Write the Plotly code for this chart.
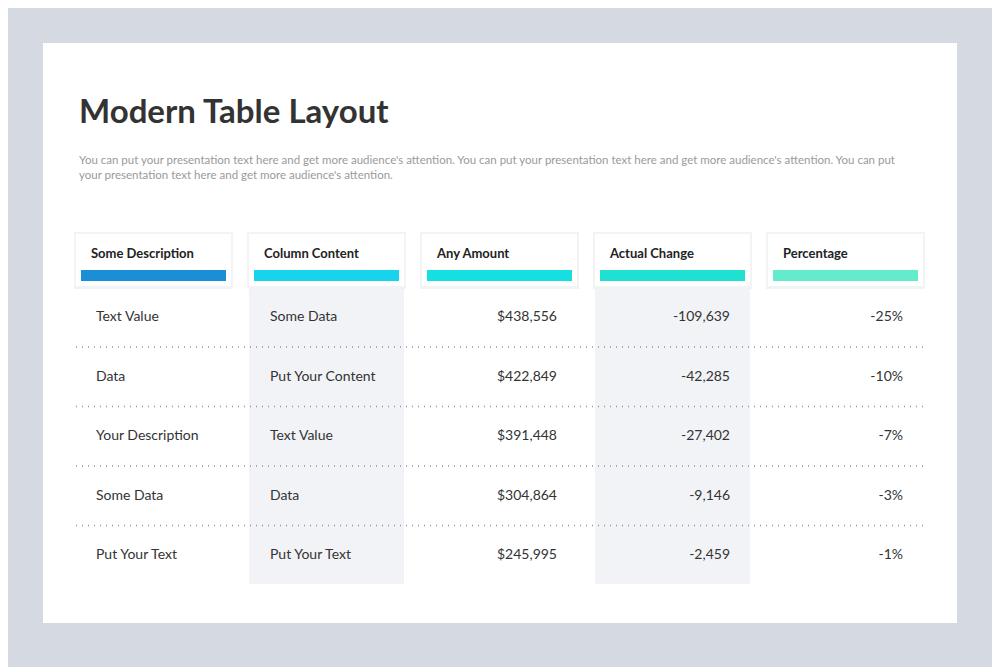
import plotly.graph_objects as go

# table data
headers = ["Some Description", "Column Content", "Any Amount", "Actual Change", "Percentage"]
descriptions = ["Text Value", "Data", "Your Description", "Some Data", "Put Your Text"]
contents = ["Some Data", "Put Your Content", "Text Value", "Data", "Put Your Text"]
amounts = [438556, 422849, 391448, 304864, 245995]
changes = [-109639, -42285, -27402, -9146, -2459]
percents = [-25, -10, -7, -3, -1]

bar_colors = ["#1a8fd6", "#17d3ec", "#15dfe0", "#20e0d2", "#62eccc"]
title = "Modern Table Layout"
blurb = ("You can put your presentation text here and get more audience's attention. You can put your presentation text here and get more audience's attention. You can put<br>"
         "your presentation text here and get more audience's attention.")

# layout in pixel space (page has an 8px body margin, so the axes are shifted)
card_x = [76, 249, 422, 595, 768]
card_w = 155
row_y = [317, 377, 436, 496, 555]
font = "Lato"
off = 8

fig = go.Figure()
shapes = [
    dict(type="rect", x0=43, x1=957, y0=43, y1=623, fillcolor="white", line_width=0, layer="below"),
]
for i in (1, 3):
    shapes.append(dict(type="rect", x0=card_x[i], x1=card_x[i] + card_w, y0=286, y1=584,
                       fillcolor="#f2f3f6", line_width=0, layer="below"))
for i, cx in enumerate(card_x):
    shapes.append(dict(type="rect", x0=cx - 2, x1=cx + card_w + 2, y0=232, y1=289,
                       fillcolor="#f2f3f5", line_width=0, layer="below"))
    shapes.append(dict(type="rect", x0=cx, x1=cx + card_w, y0=234, y1=286,
                       fillcolor="white", line_width=0, layer="below"))
    shapes.append(dict(type="rect", x0=cx + 5, x1=cx + card_w - 5, y0=270, y1=281,
                       fillcolor=bar_colors[i], line_width=0))
for a, b in zip(row_y[:-1], row_y[1:]):
    y = (a + b) / 2
    shapes.append(dict(type="line", x0=76, x1=923, y0=y, y1=y,
                       line=dict(color="#8f959c", width=1.3, dash="1px,5px")))

# header labels
fig.add_trace(go.Scatter(x=[cx + 15 for cx in card_x], y=[255] * 5, text=headers, mode="text",
                         textposition="middle right",
                         textfont=dict(family=font, size=13, color="#222")))
fig.update_traces(texttemplate="<b>%{text}</b>")

cols = [
    (96, descriptions, "middle right"),
    (270, contents, "middle right"),
    (557, [f"${v:,}" for v in amounts], "middle left"),
    (730, [f"{v:,}" for v in changes], "middle left"),
    (903, [f"{v}%" for v in percents], "middle left"),
]
for x, vals, pos in cols:
    fig.add_trace(go.Scatter(x=[x] * len(vals), y=row_y, text=vals, mode="text",
                             textposition=pos,
                             textfont=dict(family=font, size=14, color="#333")))

fig.add_annotation(x=77, y=110, text=f"<b>{title}</b>", showarrow=False, xanchor="left",
                   font=dict(family=font, size=33, color="#333"))
fig.add_annotation(x=77, y=167, text=blurb, showarrow=False, xanchor="left", align="left",
                   font=dict(family=font, size=11.5, color="#9a9a9a"))

fig.update_layout(
    width=1000, height=667, margin=dict(l=0, r=0, t=0, b=0),
    paper_bgcolor="#d5dae2", plot_bgcolor="#d5dae2",
    showlegend=False, shapes=shapes,
    xaxis=dict(range=[off, 1000 + off], visible=False, fixedrange=True),
    yaxis=dict(range=[667 + off, off], visible=False, fixedrange=True),
)
fig.write_html("out.html")
